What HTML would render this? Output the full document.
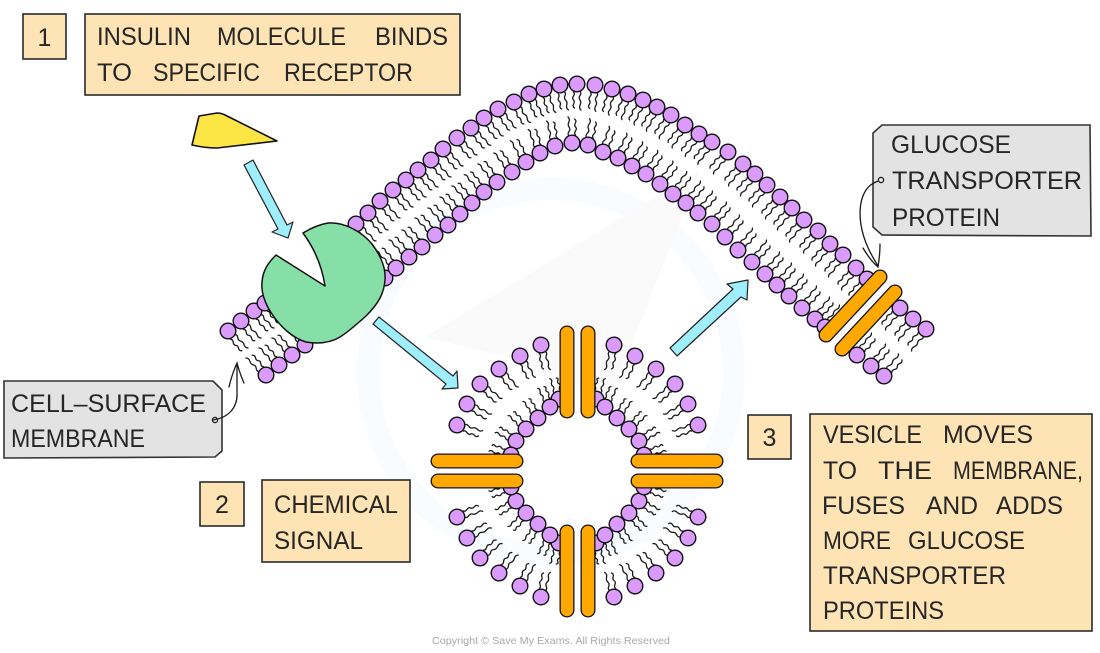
<!DOCTYPE html>
<html><head><meta charset="utf-8"><title>Insulin and glucose transporter proteins</title>
<style>
html,body{margin:0;padding:0;background:#fff}
svg{display:block}
text{font-family:"Liberation Sans",sans-serif;font-size:25px;fill:#262626}
.b{fill:#fee3b4;stroke:#2a2a2a;stroke-width:1.6}
.g{fill:#e3e3e3;stroke:#333;stroke-width:1.6}
.a{fill:#9eeefd;stroke:#222;stroke-width:1.2;stroke-linejoin:round}
.w{fill:none;stroke:#1a1a1a;stroke-width:1.3;stroke-linecap:round}
</style></head><body>
<svg width="1100" height="653" viewBox="0 0 1100 653" xmlns="http://www.w3.org/2000/svg">
<defs>
<g id="l"><path class="w" d="M7,-3c4,-3 5,3 9,0s6,3 10,-1"/><path class="w" d="M8,3.500c3,-3 5,3 8,0s5,3 8,-1"/><circle r="7.800" fill="#da9bfd" stroke="#111" stroke-width="1.400"/></g>
<g id="s"><path class="w" d="M7,-3c3,-3 4,3 7,0s5,3 8,-1"/><path class="w" d="M8,3.500c3,-3 4,3 7,0s4,3 6,-1"/><circle r="7.800" fill="#da9bfd" stroke="#111" stroke-width="1.400"/></g>
<g id="q">
<use href="#l" transform="translate(541 345) rotate(78)"/>
<use href="#l" transform="translate(520 356) rotate(63)"/>
<use href="#l" transform="translate(499 369) rotate(52)"/>
<use href="#l" transform="translate(480 384) rotate(42)"/>
<use href="#l" transform="translate(467 404) rotate(31)"/>
<use href="#l" transform="translate(457 425) rotate(21)"/>
<use href="#s" transform="translate(559 399) rotate(-104)"/>
<use href="#s" transform="translate(550 407) rotate(-113)"/>
<use href="#s" transform="translate(538 418) rotate(-122)"/>
<use href="#s" transform="translate(526 429) rotate(-133)"/>
<use href="#s" transform="translate(516 441) rotate(-148)"/>
<use href="#s" transform="translate(511 455) rotate(-160)"/>
</g>
<g id="h"><use href="#q"/><use href="#q" transform="translate(1155 0) scale(-1 1)"/></g>
</defs>
<rect width="1100" height="653" fill="#fff"/>
<circle cx="551" cy="372" r="183" fill="none" stroke="#f8fcfe" stroke-width="22"/>
<path d="M425,337 L700,170 L610,400 L520,360Z" fill="#fafafa"/>

<use href="#l" transform="translate(228 331) rotate(49)"/>
<use href="#l" transform="translate(241 321) rotate(49)"/>
<use href="#l" transform="translate(254 311) rotate(49)"/>
<use href="#l" transform="translate(265 303) rotate(49)"/>
<use href="#l" transform="translate(356 224) rotate(49)"/>
<use href="#l" transform="translate(368 213) rotate(49)"/>
<use href="#l" transform="translate(380 201) rotate(49)"/>
<use href="#l" transform="translate(393 190) rotate(49)"/>
<use href="#l" transform="translate(406 180) rotate(49)"/>
<use href="#l" transform="translate(418 170) rotate(49)"/>
<use href="#l" transform="translate(431 160) rotate(49)"/>
<use href="#l" transform="translate(443 149) rotate(49)"/>
<use href="#l" transform="translate(457 138) rotate(49)"/>
<use href="#l" transform="translate(471 128) rotate(50)"/>
<use href="#l" transform="translate(484 118) rotate(52)"/>
<use href="#l" transform="translate(498 109) rotate(55)"/>
<use href="#l" transform="translate(514 102) rotate(60)"/>
<use href="#l" transform="translate(529 94) rotate(65)"/>
<use href="#l" transform="translate(544 89) rotate(72)"/>
<use href="#l" transform="translate(560 85) rotate(80)"/>
<use href="#l" transform="translate(577 84) rotate(90)"/>
<use href="#l" transform="translate(595 85) rotate(97)"/>
<use href="#l" transform="translate(612 89) rotate(105)"/>
<use href="#l" transform="translate(628 94) rotate(112)"/>
<use href="#l" transform="translate(643 100) rotate(118)"/>
<use href="#l" transform="translate(657 107) rotate(122)"/>
<use href="#l" transform="translate(671 115) rotate(125)"/>
<use href="#l" transform="translate(685 125) rotate(128)"/>
<use href="#l" transform="translate(699 134) rotate(130)"/>
<use href="#l" transform="translate(712 142) rotate(131)"/>
<use href="#l" transform="translate(728 152) rotate(132)"/>
<use href="#l" transform="translate(743 164) rotate(132)"/>
<use href="#l" transform="translate(755 174) rotate(132)"/>
<use href="#l" transform="translate(767 185) rotate(132)"/>
<use href="#l" transform="translate(780 197) rotate(132)"/>
<use href="#l" transform="translate(792 208) rotate(132)"/>
<use href="#l" transform="translate(804 220) rotate(132)"/>
<use href="#l" transform="translate(818 231) rotate(132)"/>
<use href="#l" transform="translate(830 244) rotate(132)"/>
<use href="#l" transform="translate(843 255) rotate(132)"/>
<use href="#l" transform="translate(856 268) rotate(132)"/>
<use href="#l" transform="translate(867 279) rotate(132)"/>
<use href="#l" transform="translate(900 308) rotate(132)"/>
<use href="#l" transform="translate(913 319) rotate(132)"/>
<use href="#l" transform="translate(926 329) rotate(132)"/>

<use href="#l" transform="translate(266 375) rotate(-131)"/>
<use href="#l" transform="translate(279 365) rotate(-131)"/>
<use href="#l" transform="translate(292 355) rotate(-131)"/>
<use href="#l" transform="translate(305 345) rotate(-131)"/>
<use href="#l" transform="translate(385 278) rotate(-131)"/>
<use href="#l" transform="translate(396 268) rotate(-131)"/>
<use href="#l" transform="translate(409 257) rotate(-131)"/>
<use href="#l" transform="translate(422 247) rotate(-131)"/>
<use href="#l" transform="translate(435 235) rotate(-131)"/>
<use href="#l" transform="translate(448 225) rotate(-131)"/>
<use href="#l" transform="translate(460 214) rotate(-131)"/>
<use href="#l" transform="translate(472 203) rotate(-131)"/>
<use href="#l" transform="translate(484 192) rotate(-130)"/>
<use href="#l" transform="translate(497 182) rotate(-128)"/>
<use href="#l" transform="translate(512 172) rotate(-125)"/>
<use href="#l" transform="translate(526 162) rotate(-118)"/>
<use href="#l" transform="translate(540 153) rotate(-108)"/>
<use href="#l" transform="translate(555 146) rotate(-100)"/>
<use href="#l" transform="translate(572 143) rotate(-90)"/>
<use href="#l" transform="translate(588 145) rotate(-78)"/>
<use href="#l" transform="translate(603 152) rotate(-68)"/>
<use href="#l" transform="translate(618 158) rotate(-62)"/>
<use href="#l" transform="translate(632 166) rotate(-58)"/>
<use href="#l" transform="translate(646 174) rotate(-55)"/>
<use href="#l" transform="translate(660 184) rotate(-52)"/>
<use href="#l" transform="translate(673 194) rotate(-50)"/>
<use href="#l" transform="translate(686 203) rotate(-48)"/>
<use href="#l" transform="translate(698 213) rotate(-48)"/>
<use href="#l" transform="translate(712 224) rotate(-48)"/>
<use href="#l" transform="translate(725 237) rotate(-48)"/>
<use href="#l" transform="translate(738 250) rotate(-48)"/>
<use href="#l" transform="translate(752 262) rotate(-48)"/>
<use href="#l" transform="translate(765 274) rotate(-48)"/>
<use href="#l" transform="translate(777 285) rotate(-48)"/>
<use href="#l" transform="translate(789 296) rotate(-48)"/>
<use href="#l" transform="translate(802 308) rotate(-48)"/>
<use href="#l" transform="translate(815 319) rotate(-48)"/>
<use href="#l" transform="translate(825 327) rotate(-48)"/>
<use href="#l" transform="translate(857 355) rotate(-48)"/>
<use href="#l" transform="translate(871 366) rotate(-48)"/>
<use href="#l" transform="translate(884 376) rotate(-48)"/>

<g stroke-linecap="round">
<line x1="826" y1="335" x2="880" y2="277" stroke="#111" stroke-width="15"/>
<line x1="826" y1="335" x2="880" y2="277" stroke="#fea800" stroke-width="12.400"/>
<line x1="842" y1="349" x2="895" y2="292" stroke="#111" stroke-width="15"/>
<line x1="842" y1="349" x2="895" y2="292" stroke="#fea800" stroke-width="12.400"/>
</g>

<use href="#h"/>
<use href="#h" transform="translate(0 942) scale(1 -1)"/>
<g stroke-linecap="round">
<g stroke="#111" stroke-width="15">
<line x1="567" y1="333" x2="567" y2="411"/><line x1="588" y1="333" x2="588" y2="411"/>
<line x1="567" y1="532" x2="567" y2="610"/><line x1="588" y1="532" x2="588" y2="610"/>
<line x1="438" y1="461" x2="516" y2="461"/><line x1="438" y1="481" x2="516" y2="481"/>
<line x1="638" y1="461" x2="716" y2="461"/><line x1="638" y1="481" x2="716" y2="481"/>
</g>
<g stroke="#fea800" stroke-width="12.400">
<line x1="567" y1="333" x2="567" y2="411"/><line x1="588" y1="333" x2="588" y2="411"/>
<line x1="567" y1="532" x2="567" y2="610"/><line x1="588" y1="532" x2="588" y2="610"/>
<line x1="438" y1="461" x2="516" y2="461"/><line x1="438" y1="481" x2="516" y2="481"/>
<line x1="638" y1="461" x2="716" y2="461"/><line x1="638" y1="481" x2="716" y2="481"/>
</g>
</g>

<path d="M303,233 Q316,225 328,223 C345,222 362,232 372,244 C381,256 386,268 385,280 C384,294 378,304 366,316 C356,325 348,332 340,337 C330,343 318,344 306,342 C292,338 280,326 272,314 C265,304 261,292 262,282 C263,270 268,263 276,255 L325,286 C322,266 314,248 303,233Z" fill="#87dfa8" stroke="#111" stroke-width="1.500" stroke-linejoin="round"/>
<path d="M199,116 L217,113 Q221,113 225,115 L277,141 L217,148 Q205,148 192,145Z" fill="#fce544" stroke="#111" stroke-width="1.600" stroke-linejoin="round"/>

<polygon class="a" points="244,165 253,160 287,225 293,222 288,238 272,232 278,229"/>
<polygon class="a" points="373,324 379,317 453,376 457,371 458,388 442,389 446,384"/>
<polygon class="a" points="670,348 677,356 741,297 747,300 748,280 727,284 733,289"/>

<rect class="b" x="23" y="14" width="43" height="45"/>
<text x="44.500" y="46" text-anchor="middle">1</text>
<rect class="b" x="85" y="14" width="375" height="81"/>
<text x="97" y="45" textLength="94" lengthAdjust="spacingAndGlyphs">INSULIN</text>
<text x="217" y="45" textLength="129" lengthAdjust="spacingAndGlyphs">MOLECULE</text>
<text x="375" y="45" textLength="73" lengthAdjust="spacingAndGlyphs">BINDS</text>
<text x="97" y="81" textLength="35" lengthAdjust="spacingAndGlyphs">TO</text>
<text x="153" y="81" textLength="107" lengthAdjust="spacingAndGlyphs">SPECIFIC</text>
<text x="284" y="81" textLength="129" lengthAdjust="spacingAndGlyphs">RECEPTOR</text>

<rect class="b" x="200" y="482" width="44" height="44"/>
<text x="222" y="513" text-anchor="middle">2</text>
<rect class="b" x="262" y="480" width="148" height="82"/>
<text x="274" y="513" textLength="124" lengthAdjust="spacingAndGlyphs">CHEMICAL</text>
<text x="274" y="549" textLength="89" lengthAdjust="spacingAndGlyphs">SIGNAL</text>

<rect class="b" x="748" y="415" width="43" height="44"/>
<text x="769.500" y="446" text-anchor="middle">3</text>
<rect class="b" x="810" y="414" width="282" height="217"/>
<text x="823" y="443" textLength="99" lengthAdjust="spacingAndGlyphs">VESICLE</text>
<text x="943" y="443" textLength="90" lengthAdjust="spacingAndGlyphs">MOVES</text>
<text x="823" y="479" textLength="34" lengthAdjust="spacingAndGlyphs">TO</text>
<text x="878" y="479" textLength="54" lengthAdjust="spacingAndGlyphs">THE</text>
<text x="953" y="479" textLength="130" lengthAdjust="spacingAndGlyphs">MEMBRANE,</text>
<text x="822" y="514" textLength="83" lengthAdjust="spacingAndGlyphs">FUSES</text>
<text x="926" y="514" textLength="52" lengthAdjust="spacingAndGlyphs">AND</text>
<text x="996" y="514" textLength="67" lengthAdjust="spacingAndGlyphs">ADDS</text>
<text x="823" y="549" textLength="68" lengthAdjust="spacingAndGlyphs">MORE</text>
<text x="908" y="549" textLength="117" lengthAdjust="spacingAndGlyphs">GLUCOSE</text>
<text x="823" y="584" textLength="183" lengthAdjust="spacingAndGlyphs">TRANSPORTER</text>
<text x="823" y="619" textLength="121" lengthAdjust="spacingAndGlyphs">PROTEINS</text>

<polygon class="g" points="4,381 213,381 222,390 222,451 215,457 4,458"/>
<text x="11" y="412" textLength="195" lengthAdjust="spacingAndGlyphs">CELL–SURFACE</text>
<text x="11" y="447" textLength="134" lengthAdjust="spacingAndGlyphs">MEMBRANE</text>
<circle cx="215" cy="420" r="2.600" fill="#e3e3e3" stroke="#111" stroke-width="1.200"/>
<path class="w" d="M212.500,420 C228,418 238,408 237,392 L237,363 M229,387 Q232,374 237,363 Q240,374 244,383"/>

<polygon class="g" points="882,125 1090,125 1091,236 882,235 873,227 873,133"/>
<text x="891" y="153" textLength="120" lengthAdjust="spacingAndGlyphs">GLUCOSE</text>
<text x="892" y="189" textLength="190" lengthAdjust="spacingAndGlyphs">TRANSPORTER</text>
<text x="892" y="226" textLength="108" lengthAdjust="spacingAndGlyphs">PROTEIN</text>
<circle cx="881" cy="180" r="2.600" fill="#e3e3e3" stroke="#111" stroke-width="1.200"/>
<path class="w" d="M878.500,181 C862,186 858,205 861,225 C864,243 872,256 878,266 M863,248 Q870,260 878,267 Q880,255 880,244"/>

<text x="551" y="644" text-anchor="middle" style="font-size:10.500px;fill:#a8a8a8" textLength="238" lengthAdjust="spacingAndGlyphs">Copyright © Save My Exams. All Rights Reserved</text>
</svg>
</body></html>
